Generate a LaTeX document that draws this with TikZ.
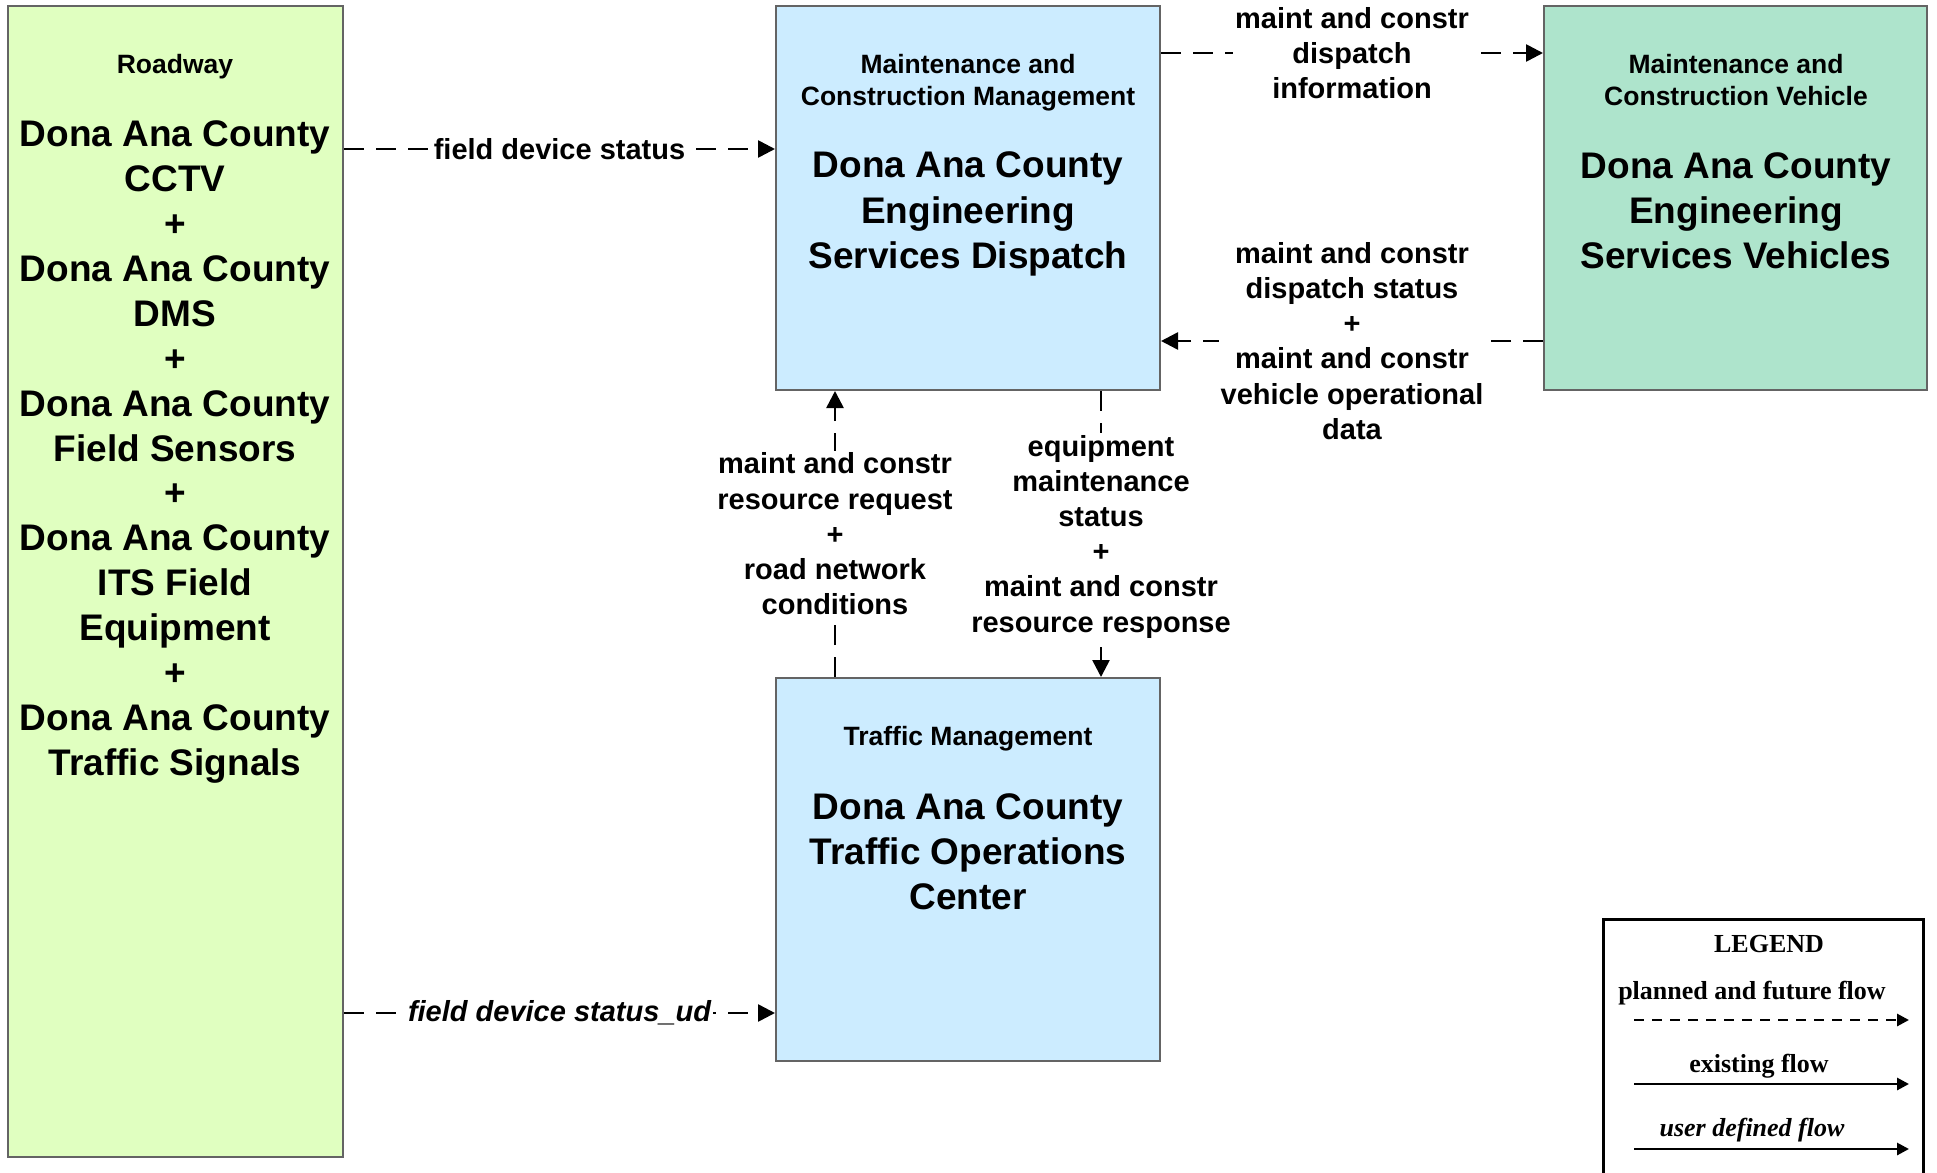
\documentclass[tikz,border=0pt]{standalone}
\usepackage{fontspec}
\setmainfont{Liberation Sans}
\newfontfamily\legendfont{Liberation Serif}
\usetikzlibrary{arrows.meta}
\definecolor{roadfill}{RGB}{224,255,192}
\definecolor{centerfill}{RGB}{204,236,255}
\definecolor{vehfill}{RGB}{174,228,204}
\definecolor{boxline}{RGB}{100,100,100}
\begin{document}
\begin{tikzpicture}[x=0.5pt,y=-0.5pt,
  box/.style={draw=boxline, line width=1pt, rectangle, inner sep=0pt},
  smalltxt/.style={align=center, inner sep=0pt, font=\fontsize{13.25}{16}\selectfont\bfseries},
  bigtxt/.style={align=center, inner sep=0pt, font=\fontsize{18.5}{22.6}\selectfont\bfseries},
  flow/.style={line width=1.3pt, dash pattern=on 10pt off 6pt, -{Triangle[length=8.5pt,width=8.5pt]}},
  lbl/.style={fill=white, inner sep=1pt, align=center, font=\fontsize{14.5}{17.6}\selectfont\bfseries},
  lgtxt/.style={inner sep=0pt, font=\legendfont\fontsize{13}{15.6}\selectfont\bfseries},
  lgarrow/.style={line width=1.4pt, -{Triangle[length=6pt,width=6pt]}}
]
\fill[white] (0,0) rectangle (1937,1172);
\useasboundingbox (0,0) rectangle (1937,1172);

% boxes
\node[box, fill=roadfill, minimum width=167.5pt, minimum height=575.5pt] (road) at (175.5,581.5) {};
\node[box, fill=centerfill, minimum width=192pt, minimum height=192pt] (disp) at (968,198) {};
\node[box, fill=vehfill, minimum width=191.5pt, minimum height=192pt] (veh) at (1735.5,198) {};
\node[box, fill=centerfill, minimum width=192pt, minimum height=191.5pt] (toc) at (968,869.5) {};

% box texts
\node[smalltxt] (roadcat) at (175,67) {Roadway};
\node[bigtxt, font=\fontsize{18.5}{22.45}\selectfont\bfseries] (roadname) at (175,452) {Dona Ana County\\CCTV\\+\\Dona Ana County\\DMS\\+\\Dona Ana County\\Field Sensors\\+\\Dona Ana County\\ITS Field\\Equipment\\+\\Dona Ana County\\Traffic Signals};
\node[smalltxt] (dispcat) at (968,83) {Maintenance and\\Construction Management};
\node[bigtxt] (dispname) at (968,214) {Dona Ana County\\Engineering\\Services Dispatch};
\node[smalltxt] (vehcat) at (1736,80) {Maintenance and\\Construction Vehicle};
\node[bigtxt] (vehname) at (1736,211) {Dona Ana County\\Engineering\\Services Vehicles};
\node[smalltxt] (toccat) at (968,739) {Traffic Management};
\node[bigtxt] (tocname) at (968,851.5) {Dona Ana County\\Traffic Operations\\Center};

% helper coordinates
\coordinate (y1) at (0,149);
\coordinate (y2) at (0,1013);
\coordinate (y3) at (0,53);
\coordinate (y4) at (0,341);
\coordinate (x5) at (835,0);
\coordinate (x6) at (1101,0);

% connectors
\draw[flow] (road.east |- y1) -- node[lbl] (l1) {field device status} (disp.west |- y1);
\draw[flow] (road.east |- y2) -- node[lbl, font=\fontsize{14.5}{17.6}\selectfont\bfseries\itshape] (l2) {field device status\_ud} (toc.west |- y2);
\draw[flow] (disp.east |- y3) -- node[lbl] (l3) {maint and constr\\dispatch\\information} (veh.west |- y3);
\draw[flow] (veh.west |- y4) -- node[lbl] (l4) {maint and constr\\dispatch status\\+\\maint and constr\\vehicle operational\\data} (disp.east |- y4);
\draw[flow] (toc.north -| x5) -- node[lbl] (l5) {maint and constr\\resource request\\+\\road network\\conditions} (disp.south -| x5);
\draw[flow] (disp.south -| x6) -- node[lbl, yshift=-1.25pt] (l6) {equipment\\maintenance\\status\\+\\maint and constr\\resource response} (toc.north -| x6);

% legend
\draw[line width=1.5pt] (1603,1180) |- (1923,919) -- (1923,1180);
\node[lgtxt] (lgtitle) at (1769,944) {LEGEND};
\node[lgtxt] (lgplan) at (1752,993) {planned and future flow};
\coordinate (p1) at (1634,1020);
\coordinate (p2) at (1909,1020);
\draw[lgarrow, dash pattern=on 5pt off 4pt] (p1) -- (p2);
\node[lgtxt] (lgexist) at (1759,1066) {existing flow};
\coordinate (e1) at (1634,1084);
\coordinate (e2) at (1909,1084);
\draw[lgarrow] (e1) -- (e2);
\node[lgtxt, font=\legendfont\fontsize{13}{15.6}\selectfont\bfseries\itshape] (lguser) at (1752,1130) {user defined flow};
\coordinate (u1) at (1634,1149);
\coordinate (u2) at (1909,1149);
\draw[lgarrow] (u1) -- (u2);
\end{tikzpicture}
\end{document}
